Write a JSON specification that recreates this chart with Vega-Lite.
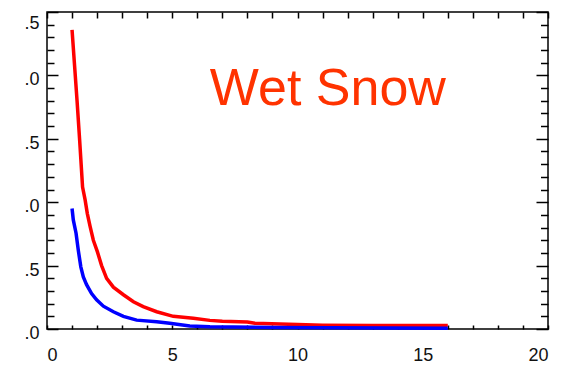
{
  "$schema": "https://vega.github.io/schema/vega-lite/v6.json",
  "width": 501,
  "height": 317,
  "autosize": {"type": "none"},
  "padding": {"left": 47, "top": 12, "right": 16, "bottom": 53},
  "background": "white",
  "config": {
    "view": {"stroke": "#000", "strokeWidth": 1.5},
    "axis": {"domain": false, "grid": false, "labelFont": "Liberation Sans", "labelFontSize": 18, "labelColor": "#111", "tickColor": "#000", "tickWidth": 1.5}
  },
  "datasets": {
    "red": [
      {"x": 1.0, "y": 2.36}, {"x": 1.1, "y": 2.08}, {"x": 1.2, "y": 1.8}, {"x": 1.3, "y": 1.5},
      {"x": 1.42, "y": 1.12}, {"x": 1.52, "y": 1.02}, {"x": 1.61, "y": 0.91}, {"x": 1.72, "y": 0.81},
      {"x": 1.85, "y": 0.7}, {"x": 2.01, "y": 0.61}, {"x": 2.18, "y": 0.5}, {"x": 2.38, "y": 0.4},
      {"x": 2.65, "y": 0.33}, {"x": 3.05, "y": 0.27}, {"x": 3.45, "y": 0.215}, {"x": 3.84, "y": 0.176},
      {"x": 4.38, "y": 0.136}, {"x": 5.04, "y": 0.1}, {"x": 5.84, "y": 0.084}, {"x": 6.5, "y": 0.068},
      {"x": 7.0, "y": 0.061}, {"x": 8.0, "y": 0.055}, {"x": 8.3, "y": 0.045}, {"x": 9.3, "y": 0.04},
      {"x": 10.0, "y": 0.035}, {"x": 11.0, "y": 0.03}, {"x": 13.0, "y": 0.028}, {"x": 16.0, "y": 0.027}
    ],
    "blue": [
      {"x": 1.0, "y": 0.95}, {"x": 1.05, "y": 0.86}, {"x": 1.16, "y": 0.755}, {"x": 1.25, "y": 0.62},
      {"x": 1.35, "y": 0.49}, {"x": 1.45, "y": 0.41}, {"x": 1.58, "y": 0.35}, {"x": 1.78, "y": 0.28},
      {"x": 1.98, "y": 0.23}, {"x": 2.25, "y": 0.18}, {"x": 2.65, "y": 0.136}, {"x": 3.05, "y": 0.1},
      {"x": 3.58, "y": 0.07}, {"x": 4.38, "y": 0.058}, {"x": 4.9, "y": 0.045}, {"x": 5.7, "y": 0.024},
      {"x": 6.5, "y": 0.018}, {"x": 9.0, "y": 0.012}, {"x": 16.0, "y": 0.005}
    ],
    "label": [{"x": 6.5, "y": 1.77, "text": "Wet Snow"}]
  },
  "resolve": {"axis": {"x": "independent", "y": "independent"}},
  "layer": [
    {
      "data": {"name": "red"},
      "mark": {"type": "line", "color": "#FF0000", "strokeWidth": 3.5},
      "encoding": {
        "x": {"field": "x", "type": "quantitative", "scale": {"domain": [0, 20], "nice": false, "zero": false},
          "axis": {"orient": "bottom", "title": null, "values": [0,1,2,3,4,5,6,7,8,9,10,11,12,13,14,15,16,17,18,19,20],
            "tickSize": -4, "labelPadding": 21, "labelExpr": "datum.value % 5 === 0 ? datum.label : ''"}},
        "y": {"field": "y", "type": "quantitative", "scale": {"domain": [0, 2.5], "nice": false, "zero": false},
          "axis": {"orient": "left", "title": null, "values": [0, 0.5, 1, 1.5, 2, 2.5], "tickSize": -11, "labelPadding": 19,
            "labelExpr": "substring(format(datum.value, '.1f'), 1)",
            "labelOffset": {"condition": {"test": "datum.value === 2.5", "value": 11}, "value": 4.5}}}
      }
    },
    {
      "data": {"name": "blue"},
      "mark": {"type": "line", "color": "#0000FF", "strokeWidth": 3.5},
      "encoding": {
        "x": {"field": "x", "type": "quantitative", "scale": {"domain": [0, 20], "nice": false, "zero": false},
          "axis": {"orient": "top", "title": null, "values": [0,1,2,3,4,5,6,7,8,9,10,11,12,13,14,15,16,17,18,19,20],
            "tickSize": -6, "labels": false}},
        "y": {"field": "y", "type": "quantitative", "scale": {"domain": [0, 2.5], "nice": false, "zero": false},
          "axis": {"orient": "right", "title": null, "values": [0, 0.5, 1, 1.5, 2, 2.5], "tickSize": -12, "labels": false}}
      }
    },
    {
      "data": {"name": "label"},
      "mark": {"type": "text", "color": "#FF3300", "font": "Liberation Sans", "fontSize": 52, "align": "left", "baseline": "alphabetic"},
      "encoding": {
        "x": {"field": "x", "type": "quantitative", "scale": {"domain": [0, 20], "nice": false, "zero": false}, "axis": null},
        "y": {"field": "y", "type": "quantitative", "scale": {"domain": [0, 2.5], "nice": false, "zero": false},
          "axis": {"orient": "left", "title": null, "labels": false, "tickSize": -7,
            "values": [0.1,0.2,0.3,0.4,0.6,0.7,0.8,0.9,1.1,1.2,1.3,1.4,1.6,1.7,1.8,1.9,2.1,2.2,2.3,2.4]}},
        "text": {"field": "text"}
      }
    },
    {
      "data": {"name": "label"},
      "mark": {"type": "point", "opacity": 0},
      "encoding": {
        "x": {"field": "x", "type": "quantitative", "scale": {"domain": [0, 20], "nice": false, "zero": false}, "axis": null},
        "y": {"field": "y", "type": "quantitative", "scale": {"domain": [0, 2.5], "nice": false, "zero": false},
          "axis": {"orient": "right", "title": null, "labels": false, "tickSize": -7.5,
            "values": [0.1,0.2,0.3,0.4,0.6,0.7,0.8,0.9,1.1,1.2,1.3,1.4,1.6,1.7,1.8,1.9,2.1,2.2,2.3,2.4]}}
      }
    }
  ]
}
